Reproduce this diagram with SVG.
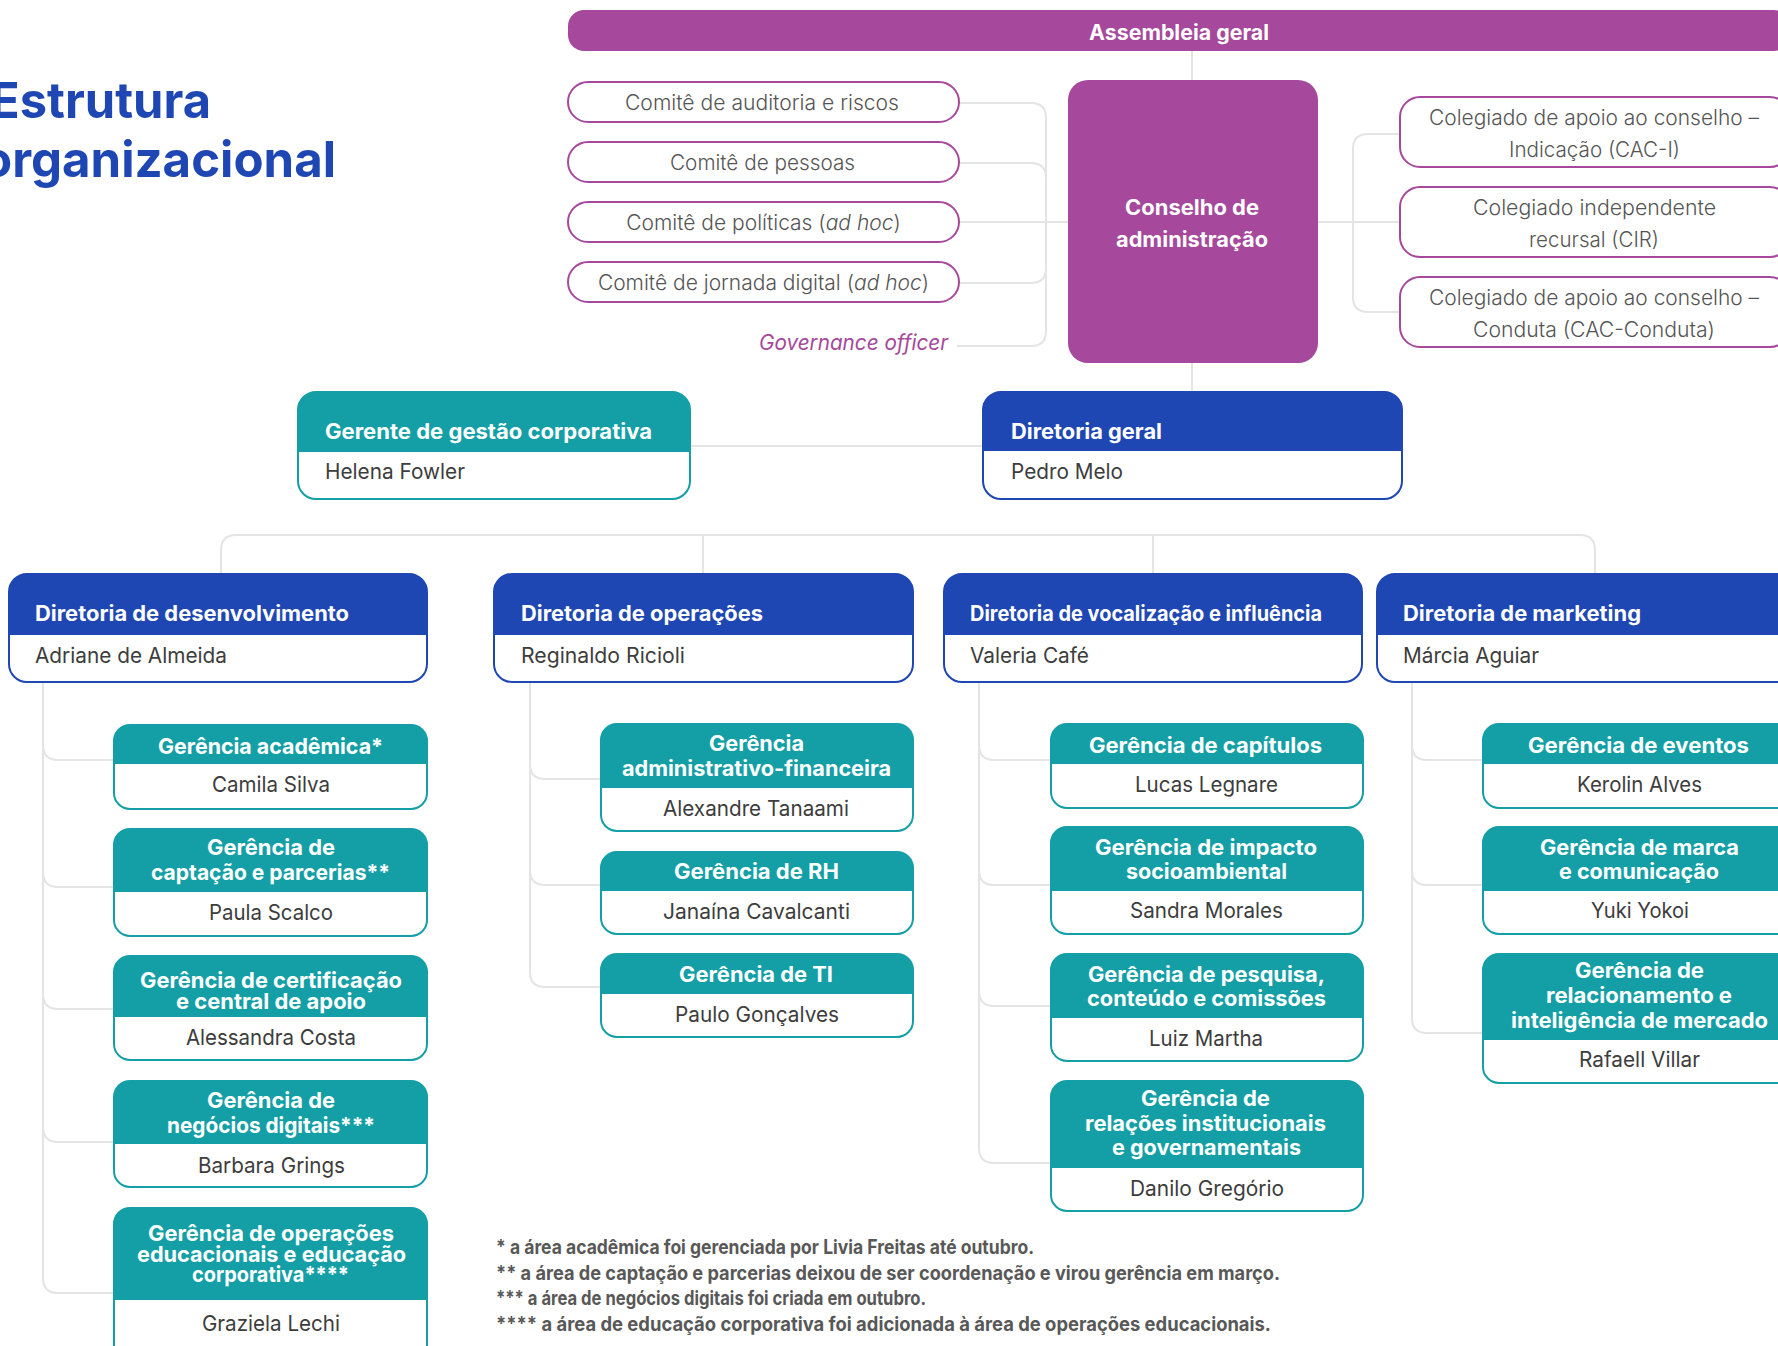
<svg xmlns="http://www.w3.org/2000/svg" width="1778" height="1346" viewBox="0 0 1778 1346">
  <style>
    text { font-family: Inter, "Liberation Sans", sans-serif; }
    .ttl { font-size: 50px; font-weight: 700; fill: #1F47B3; }
    .hd { font-size: 21px; font-weight: 700; fill: #ffffff; }
    .hd2 { font-size: 22px; font-weight: 700; fill: #ffffff; }
    .nm { font-size: 21px; font-weight: 400; fill: #3d3d3d; }
    .nm2 { font-size: 22px; font-weight: 400; fill: #3d3d3d; }
    .cm { font-size: 21px; font-weight: 300; fill: #555555; }
    .gov { font-size: 21px; font-weight: 400; font-style: italic; fill: #A6489B; }
    .fn { font-size: 19.5px; font-weight: 700; fill: #585858; }
    .conn { fill: none; stroke: #E4E4E4; stroke-width: 2; }
    .pill { fill: #ffffff; stroke: #A6489B; stroke-width: 2; }
    .purple { fill: #A6489B; }
    .bodyB { fill: #ffffff; stroke: #1F47B3; stroke-width: 2; }
    .headB { fill: #1F47B3; }
    .bodyT { fill: #ffffff; stroke: #149FA6; stroke-width: 2; }
    .headT { fill: #149FA6; }
  </style>

  <!-- page title -->
  <g id="title">
    <text class="ttl" x="-10" y="118" textLength="221" lengthAdjust="spacingAndGlyphs">Estrutura</text>
    <text class="ttl" x="-18" y="177" textLength="354" lengthAdjust="spacingAndGlyphs">organizacional</text>
  </g>

  <!-- connectors -->
  <g id="connectors" class="conn">
    <path d="M1192 51 V80"/>
    <path d="M1192 363 V392"/>
    <!-- committees to board -->
    <path d="M959 103 H1031 Q1046 103 1046 118 V222 H1068"/>
    <path d="M959 163 H1031 Q1046 163 1046 178 V222"/>
    <path d="M959 222 H1068"/>
    <path d="M959 283 H1031 Q1046 283 1046 268 V222"/>
    <path d="M957 346 H1031 Q1046 346 1046 331 V222"/>
    <!-- board to collegiates -->
    <path d="M1318 222 H1400"/>
    <path d="M1400 134 H1368 Q1353 134 1353 149 V222"/>
    <path d="M1400 312 H1368 Q1353 312 1353 297 V222"/>
    <!-- corporate manager to general directorate -->
    <path d="M690 446 H983"/>
    <!-- directorates bus -->
    <path d="M221 577 V550 Q221 535 236 535 H1580 Q1595 535 1595 550 V577"/>
    <path d="M703 535 V577"/>
    <path d="M1153 535 V577"/>
    <!-- development managers -->
    <path d="M43 682 V745 Q43 760 58 760 H114"/>
    <path d="M43 682 V872 Q43 887 58 887 H114"/>
    <path d="M43 682 V994 Q43 1009 58 1009 H114"/>
    <path d="M43 682 V1127 Q43 1142 58 1142 H114"/>
    <path d="M43 682 V1278 Q43 1293 58 1293 H114"/>
    <!-- operations managers -->
    <path d="M530 682 V764 Q530 779 545 779 H601"/>
    <path d="M530 682 V870 Q530 885 545 885 H601"/>
    <path d="M530 682 V972 Q530 987 545 987 H601"/>
    <!-- advocacy managers -->
    <path d="M979 682 V745 Q979 760 994 760 H1051"/>
    <path d="M979 682 V870 Q979 885 994 885 H1051"/>
    <path d="M979 682 V991 Q979 1006 994 1006 H1051"/>
    <path d="M979 682 V1148 Q979 1163 994 1163 H1051"/>
    <!-- marketing managers -->
    <path d="M1412 682 V745 Q1412 760 1427 760 H1483"/>
    <path d="M1412 682 V870 Q1412 885 1427 885 H1483"/>
    <path d="M1412 682 V1018 Q1412 1033 1427 1033 H1483"/>
  </g>

  <!-- governance -->
  <g id="assembleia">
    <rect class="purple" x="568" y="10" width="1222" height="41" rx="16"/>
    <text class="hd" x="1089" y="40" textLength="180" lengthAdjust="spacingAndGlyphs">Assembleia geral</text>
  </g>

  <g id="conselho">
    <rect class="purple" x="1068" y="80" width="250" height="283" rx="20"/>
    <text class="hd" x="1125" y="215" textLength="134" lengthAdjust="spacingAndGlyphs">Conselho de</text>
    <text class="hd" x="1116" y="247" textLength="152" lengthAdjust="spacingAndGlyphs">administração</text>
  </g>

  <g id="comite-auditoria">
    <rect class="pill" x="568" y="82" width="391" height="40" rx="20"/>
    <text class="cm" x="625" y="110" textLength="274" lengthAdjust="spacingAndGlyphs">Comitê de auditoria e riscos</text>
  </g>
  <g id="comite-pessoas">
    <rect class="pill" x="568" y="142" width="391" height="40" rx="20"/>
    <text class="cm" x="670" y="170" textLength="185" lengthAdjust="spacingAndGlyphs">Comitê de pessoas</text>
  </g>
  <g id="comite-politicas">
    <rect class="pill" x="568" y="202" width="391" height="40" rx="20"/>
    <text class="cm" x="763.5" y="230" text-anchor="middle">Comitê de políticas (<tspan font-style="italic">ad hoc</tspan>)</text>
  </g>
  <g id="comite-jornada">
    <rect class="pill" x="568" y="262" width="391" height="40" rx="20"/>
    <text class="cm" x="763.5" y="290" text-anchor="middle">Comitê de jornada digital (<tspan font-style="italic">ad hoc</tspan>)</text>
  </g>
  <g id="governance-officer">
    <text class="gov" x="759" y="350" textLength="189" lengthAdjust="spacingAndGlyphs">Governance officer</text>
  </g>

  <g id="cac-indicacao">
    <rect class="pill" x="1400" y="97" width="390" height="70" rx="20"/>
    <text class="cm" x="1429" y="125" textLength="330" lengthAdjust="spacingAndGlyphs">Colegiado de apoio ao conselho –</text>
    <text class="cm" x="1509" y="157" textLength="171" lengthAdjust="spacingAndGlyphs">Indicação (CAC-I)</text>
  </g>
  <g id="cir">
    <rect class="pill" x="1400" y="187" width="390" height="70" rx="20"/>
    <text class="cm" x="1473" y="215" textLength="243" lengthAdjust="spacingAndGlyphs">Colegiado independente</text>
    <text class="cm" x="1529" y="247" textLength="130" lengthAdjust="spacingAndGlyphs">recursal (CIR)</text>
  </g>
  <g id="cac-conduta">
    <rect class="pill" x="1400" y="277" width="390" height="70" rx="20"/>
    <text class="cm" x="1429" y="305" textLength="330" lengthAdjust="spacingAndGlyphs">Colegiado de apoio ao conselho –</text>
    <text class="cm" x="1473" y="337" textLength="242" lengthAdjust="spacingAndGlyphs">Conduta (CAC-Conduta)</text>
  </g>

  <!-- executive level -->
  <g id="gerente-gestao">
    <rect class="bodyT" x="298" y="392" width="392" height="107" rx="18"/>
    <path class="headT" d="M298 452 V410 A18 18 0 0 1 316 392 H672 A18 18 0 0 1 690 410 V452 Z"/>
    <text class="hd" x="325" y="439" textLength="327" lengthAdjust="spacingAndGlyphs">Gerente de gestão corporativa</text>
    <text class="nm" x="325" y="479" textLength="140" lengthAdjust="spacingAndGlyphs">Helena Fowler</text>
  </g>
  <g id="diretoria-geral">
    <rect class="bodyB" x="983" y="392" width="419" height="107" rx="18"/>
    <path class="headB" d="M983 451 V410 A18 18 0 0 1 1001 392 H1384 A18 18 0 0 1 1402 410 V451 Z"/>
    <text class="hd" x="1011" y="439" textLength="151" lengthAdjust="spacingAndGlyphs">Diretoria geral</text>
    <text class="nm" x="1011" y="479" textLength="112" lengthAdjust="spacingAndGlyphs">Pedro Melo</text>
  </g>

  <!-- directorates -->
  <g id="dir-desenvolvimento">
    <rect class="bodyB" x="9" y="574" width="418" height="108" rx="18"/>
    <path class="headB" d="M9 635 V592 A18 18 0 0 1 27 574 H409 A18 18 0 0 1 427 592 V635 Z"/>
    <text class="hd" x="35" y="621" textLength="314" lengthAdjust="spacingAndGlyphs">Diretoria de desenvolvimento</text>
    <text class="nm" x="35" y="663" textLength="192" lengthAdjust="spacingAndGlyphs">Adriane de Almeida</text>
  </g>
  <g id="dir-operacoes">
    <rect class="bodyB" x="494" y="574" width="419" height="108" rx="18"/>
    <path class="headB" d="M494 635 V592 A18 18 0 0 1 512 574 H895 A18 18 0 0 1 913 592 V635 Z"/>
    <text class="hd" x="521" y="621" textLength="242" lengthAdjust="spacingAndGlyphs">Diretoria de operações</text>
    <text class="nm" x="521" y="663" textLength="164" lengthAdjust="spacingAndGlyphs">Reginaldo Ricioli</text>
  </g>
  <g id="dir-vocalizacao">
    <rect class="bodyB" x="944" y="574" width="418" height="108" rx="18"/>
    <path class="headB" d="M944 635 V592 A18 18 0 0 1 962 574 H1344 A18 18 0 0 1 1362 592 V635 Z"/>
    <text class="hd" x="970" y="621" textLength="352" lengthAdjust="spacingAndGlyphs">Diretoria de vocalização e influência</text>
    <text class="nm" x="970" y="663" textLength="119" lengthAdjust="spacingAndGlyphs">Valeria Café</text>
  </g>
  <g id="dir-marketing">
    <rect class="bodyB" x="1377" y="574" width="418" height="108" rx="18"/>
    <path class="headB" d="M1377 635 V592 A18 18 0 0 1 1395 574 H1777 A18 18 0 0 1 1795 592 V635 Z"/>
    <text class="hd" x="1403" y="621" textLength="238" lengthAdjust="spacingAndGlyphs">Diretoria de marketing</text>
    <text class="nm" x="1403" y="663" textLength="136" lengthAdjust="spacingAndGlyphs">Márcia Aguiar</text>
  </g>

  <!-- development managers -->
  <g id="ger-academica">
    <rect class="bodyT" x="114" y="725" width="313" height="84" rx="16"/>
    <path class="headT" d="M114 764 V741 A16 16 0 0 1 130 725 H411 A16 16 0 0 1 427 741 V764 Z"/>
    <text class="hd2" x="158" y="754" textLength="225" lengthAdjust="spacingAndGlyphs">Gerência acadêmica*</text>
    <text class="nm2" x="212" y="792" textLength="118" lengthAdjust="spacingAndGlyphs">Camila Silva</text>
  </g>
  <g id="ger-captacao">
    <rect class="bodyT" x="114" y="829" width="313" height="107" rx="16"/>
    <path class="headT" d="M114 892 V845 A16 16 0 0 1 130 829 H411 A16 16 0 0 1 427 845 V892 Z"/>
    <text class="hd2" x="207" y="855" textLength="128" lengthAdjust="spacingAndGlyphs">Gerência de</text>
    <text class="hd2" x="151" y="880" textLength="239" lengthAdjust="spacingAndGlyphs">captação e parcerias**</text>
    <text class="nm2" x="209" y="920" textLength="124" lengthAdjust="spacingAndGlyphs">Paula Scalco</text>
  </g>
  <g id="ger-certificacao">
    <rect class="bodyT" x="114" y="956" width="313" height="104" rx="16"/>
    <path class="headT" d="M114 1017 V972 A16 16 0 0 1 130 956 H411 A16 16 0 0 1 427 972 V1017 Z"/>
    <text class="hd2" x="140" y="988" textLength="262" lengthAdjust="spacingAndGlyphs">Gerência de certificação</text>
    <text class="hd2" x="176" y="1009" textLength="190" lengthAdjust="spacingAndGlyphs">e central de apoio</text>
    <text class="nm2" x="186" y="1045" textLength="170" lengthAdjust="spacingAndGlyphs">Alessandra Costa</text>
  </g>
  <g id="ger-negocios-digitais">
    <rect class="bodyT" x="114" y="1081" width="313" height="106" rx="16"/>
    <path class="headT" d="M114 1144 V1097 A16 16 0 0 1 130 1081 H411 A16 16 0 0 1 427 1097 V1144 Z"/>
    <text class="hd2" x="207" y="1108" textLength="128" lengthAdjust="spacingAndGlyphs">Gerência de</text>
    <text class="hd2" x="167" y="1133" textLength="208" lengthAdjust="spacingAndGlyphs">negócios digitais***</text>
    <text class="nm2" x="198" y="1173" textLength="147" lengthAdjust="spacingAndGlyphs">Barbara Grings</text>
  </g>
  <g id="ger-operacoes-educacionais">
    <rect class="bodyT" x="114" y="1208" width="313" height="154" rx="16"/>
    <path class="headT" d="M114 1300 V1224 A16 16 0 0 1 130 1208 H411 A16 16 0 0 1 427 1224 V1300 Z"/>
    <text class="hd2" x="148" y="1241" textLength="246" lengthAdjust="spacingAndGlyphs">Gerência de operações</text>
    <text class="hd2" x="137" y="1262" textLength="269" lengthAdjust="spacingAndGlyphs">educacionais e educação</text>
    <text class="hd2" x="192" y="1282" textLength="157" lengthAdjust="spacingAndGlyphs">corporativa****</text>
    <text class="nm2" x="202" y="1331" textLength="138" lengthAdjust="spacingAndGlyphs">Graziela Lechi</text>
  </g>

  <!-- operations managers -->
  <g id="ger-adm-financeira">
    <rect class="bodyT" x="601" y="724" width="312" height="107" rx="16"/>
    <path class="headT" d="M601 788 V740 A16 16 0 0 1 617 724 H897 A16 16 0 0 1 913 740 V788 Z"/>
    <text class="hd" x="709" y="751" textLength="95" lengthAdjust="spacingAndGlyphs">Gerência</text>
    <text class="hd" x="622" y="776" textLength="269" lengthAdjust="spacingAndGlyphs">administrativo-financeira</text>
    <text class="nm" x="663" y="816" textLength="186" lengthAdjust="spacingAndGlyphs">Alexandre Tanaami</text>
  </g>
  <g id="ger-rh">
    <rect class="bodyT" x="601" y="852" width="312" height="82" rx="16"/>
    <path class="headT" d="M601 891 V868 A16 16 0 0 1 617 852 H897 A16 16 0 0 1 913 868 V891 Z"/>
    <text class="hd" x="674" y="879" textLength="165" lengthAdjust="spacingAndGlyphs">Gerência de RH</text>
    <text class="nm" x="663" y="919" textLength="187" lengthAdjust="spacingAndGlyphs">Janaína Cavalcanti</text>
  </g>
  <g id="ger-ti">
    <rect class="bodyT" x="601" y="954" width="312" height="83" rx="16"/>
    <path class="headT" d="M601 994 V970 A16 16 0 0 1 617 954 H897 A16 16 0 0 1 913 970 V994 Z"/>
    <text class="hd" x="679" y="982" textLength="154" lengthAdjust="spacingAndGlyphs">Gerência de TI</text>
    <text class="nm" x="675" y="1022" textLength="164" lengthAdjust="spacingAndGlyphs">Paulo Gonçalves</text>
  </g>

  <!-- advocacy managers -->
  <g id="ger-capitulos">
    <rect class="bodyT" x="1051" y="724" width="312" height="84" rx="16"/>
    <path class="headT" d="M1051 764 V740 A16 16 0 0 1 1067 724 H1347 A16 16 0 0 1 1363 740 V764 Z"/>
    <text class="hd" x="1089" y="753" textLength="233" lengthAdjust="spacingAndGlyphs">Gerência de capítulos</text>
    <text class="nm" x="1135" y="792" textLength="143" lengthAdjust="spacingAndGlyphs">Lucas Legnare</text>
  </g>
  <g id="ger-impacto">
    <rect class="bodyT" x="1051" y="827" width="312" height="107" rx="16"/>
    <path class="headT" d="M1051 891 V843 A16 16 0 0 1 1067 827 H1347 A16 16 0 0 1 1363 843 V891 Z"/>
    <text class="hd" x="1095" y="855" textLength="222" lengthAdjust="spacingAndGlyphs">Gerência de impacto</text>
    <text class="hd" x="1126" y="879" textLength="161" lengthAdjust="spacingAndGlyphs">socioambiental</text>
    <text class="nm" x="1130" y="918" textLength="153" lengthAdjust="spacingAndGlyphs">Sandra Morales</text>
  </g>
  <g id="ger-pesquisa">
    <rect class="bodyT" x="1051" y="954" width="312" height="107" rx="16"/>
    <path class="headT" d="M1051 1018 V970 A16 16 0 0 1 1067 954 H1347 A16 16 0 0 1 1363 970 V1018 Z"/>
    <text class="hd" x="1088" y="982" textLength="237" lengthAdjust="spacingAndGlyphs">Gerência de pesquisa,</text>
    <text class="hd" x="1087" y="1006" textLength="239" lengthAdjust="spacingAndGlyphs">conteúdo e comissões</text>
    <text class="nm" x="1149" y="1046" textLength="114" lengthAdjust="spacingAndGlyphs">Luiz Martha</text>
  </g>
  <g id="ger-relacoes-institucionais">
    <rect class="bodyT" x="1051" y="1081" width="312" height="130" rx="16"/>
    <path class="headT" d="M1051 1168 V1097 A16 16 0 0 1 1067 1081 H1347 A16 16 0 0 1 1363 1097 V1168 Z"/>
    <text class="hd" x="1141" y="1106" textLength="129" lengthAdjust="spacingAndGlyphs">Gerência de</text>
    <text class="hd" x="1085" y="1131" textLength="241" lengthAdjust="spacingAndGlyphs">relações institucionais</text>
    <text class="hd" x="1112" y="1155" textLength="189" lengthAdjust="spacingAndGlyphs">e governamentais</text>
    <text class="nm" x="1130" y="1196" textLength="154" lengthAdjust="spacingAndGlyphs">Danilo Gregório</text>
  </g>

  <!-- marketing managers -->
  <g id="ger-eventos">
    <rect class="bodyT" x="1483" y="724" width="312" height="84" rx="16"/>
    <path class="headT" d="M1483 764 V740 A16 16 0 0 1 1499 724 H1779 A16 16 0 0 1 1795 740 V764 Z"/>
    <text class="hd" x="1528" y="753" textLength="221" lengthAdjust="spacingAndGlyphs">Gerência de eventos</text>
    <text class="nm" x="1577" y="792" textLength="125" lengthAdjust="spacingAndGlyphs">Kerolin Alves</text>
  </g>
  <g id="ger-marca">
    <rect class="bodyT" x="1483" y="827" width="312" height="107" rx="16"/>
    <path class="headT" d="M1483 891 V843 A16 16 0 0 1 1499 827 H1779 A16 16 0 0 1 1795 843 V891 Z"/>
    <text class="hd" x="1540" y="855" textLength="199" lengthAdjust="spacingAndGlyphs">Gerência de marca</text>
    <text class="hd" x="1559" y="879" textLength="160" lengthAdjust="spacingAndGlyphs">e comunicação</text>
    <text class="nm" x="1591" y="918" textLength="98" lengthAdjust="spacingAndGlyphs">Yuki Yokoi</text>
  </g>
  <g id="ger-relacionamento">
    <rect class="bodyT" x="1483" y="954" width="312" height="129" rx="16"/>
    <path class="headT" d="M1483 1040 V970 A16 16 0 0 1 1499 954 H1779 A16 16 0 0 1 1795 970 V1040 Z"/>
    <text class="hd" x="1575" y="978" textLength="129" lengthAdjust="spacingAndGlyphs">Gerência de</text>
    <text class="hd" x="1546" y="1003" textLength="186" lengthAdjust="spacingAndGlyphs">relacionamento e</text>
    <text class="hd" x="1511" y="1028" textLength="257" lengthAdjust="spacingAndGlyphs">inteligência de mercado</text>
    <text class="nm" x="1579" y="1067" textLength="121" lengthAdjust="spacingAndGlyphs">Rafaell Villar</text>
  </g>

  <!-- footnotes -->
  <g id="notas">
    <text class="fn" x="496" y="1254" textLength="538" lengthAdjust="spacingAndGlyphs">* a área acadêmica foi gerenciada por Livia Freitas até outubro.</text>
    <text class="fn" x="496" y="1280" textLength="784" lengthAdjust="spacingAndGlyphs">** a área de captação e parcerias deixou de ser coordenação e virou gerência em março.</text>
    <text class="fn" x="496" y="1305" textLength="430" lengthAdjust="spacingAndGlyphs">*** a área de negócios digitais foi criada em outubro.</text>
    <text class="fn" x="496" y="1331" textLength="775" lengthAdjust="spacingAndGlyphs">**** a área de educação corporativa foi adicionada à área de operações educacionais.</text>
  </g>
</svg>
